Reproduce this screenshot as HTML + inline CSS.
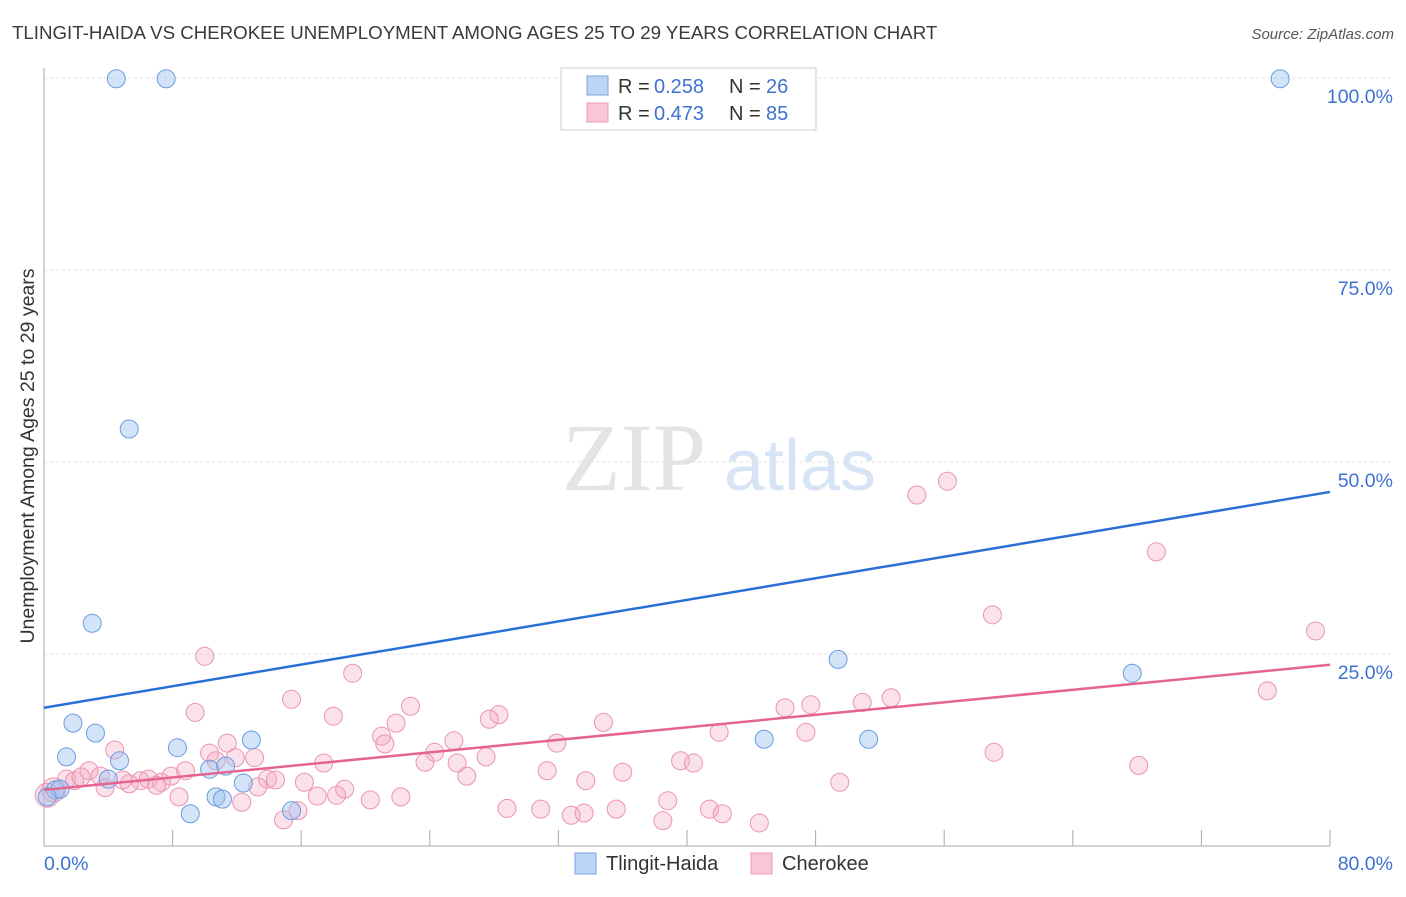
<!DOCTYPE html>
<html><head><meta charset="utf-8"><style>
body{margin:0;background:#fff;font-family:"Liberation Sans",sans-serif}
</style></head><body>
<svg id="c" width="1406" height="892" viewBox="0 0 1406 892" xmlns="http://www.w3.org/2000/svg">
<text x="12" y="39" font-size="18.7" fill="#3a3a3a">TLINGIT-HAIDA VS CHEROKEE UNEMPLOYMENT AMONG AGES 25 TO 29 YEARS CORRELATION CHART</text>
<text x="1394" y="39" font-size="15" fill="#555" font-style="italic" text-anchor="end">Source: ZipAtlas.com</text>
<text x="634" y="490" font-size="96" fill="#e4e4e4" font-family="Liberation Serif, serif" text-anchor="middle">ZIP</text>
<text x="800" y="490" font-size="72" fill="#d6e4f5" text-anchor="middle">atlas</text>
<g id="grid"></g><g id="pts"></g><g id="trend"></g>
<text transform="translate(34,456) rotate(-90)" font-size="19.5" fill="#333" text-anchor="middle">Unemployment Among Ages 25 to 29 years</text>
<text x="44" y="870" font-size="19.5" fill="#3d72d0">0.0%</text>
<text x="1393" y="870" font-size="19.5" fill="#3d72d0" text-anchor="end">80.0%</text>
<g>
<rect x="561" y="68" width="255" height="62" fill="#fff" stroke="#ccc"/>
<rect x="587" y="76" width="21" height="19" fill="#bcd4f5" stroke="#7aa6e4"/>
<rect x="587" y="103" width="21" height="19" fill="#f8c6d6" stroke="#ec9ab4"/>
<text x="618" y="93" font-size="20" fill="#333">R =</text>
<text x="654" y="93" font-size="20" fill="#3d72d0">0.258</text>
<text x="729" y="93" font-size="20" fill="#333">N =</text>
<text x="766" y="93" font-size="20" fill="#3d72d0">26</text>
<text x="618" y="120" font-size="20" fill="#333">R =</text>
<text x="654" y="120" font-size="20" fill="#3d72d0">0.473</text>
<text x="729" y="120" font-size="20" fill="#333">N =</text>
<text x="766" y="120" font-size="20" fill="#3d72d0">85</text>
</g>
<g>
<rect x="575" y="853" width="21" height="21" fill="#bcd4f5" stroke="#7aa6e4"/>
<text x="606" y="870" font-size="20" fill="#333">Tlingit-Haida</text>
<rect x="751" y="853" width="21" height="21" fill="#f8c6d6" stroke="#ec9ab4"/>
<text x="782" y="870" font-size="20" fill="#333">Cherokee</text>
</g>
</svg>
<script>
const yTicks=[25,50,75,100];
const yTickLabels=["25.0%","50.0%","75.0%","100.0%"];
const xTicks=[8,16,24,32,40,48,56,64,72,80];
const blueX=[4.5,7.6,76.9,5.3,3.0,49.4,67.7,1.8,3.2,1.4,8.3,12.9,44.8,51.3,4.7,10.3,11.3,4.0,12.4,0.7,1.0,0.2,10.7,11.1,9.1,15.4];
const blueY=[99.9,99.9,99.9,54.3,29.0,24.3,22.5,16.0,14.7,11.6,12.8,13.8,13.9,13.9,11.1,10.0,10.4,8.7,8.2,7.3,7.4,6.4,6.4,6.1,4.2,4.6];
const pinkX=[54.3,56.2,69.2,59.0,79.1,10.0,19.2,76.1,15.4,52.7,50.9,47.7,46.1,9.4,22.8,18.0,28.3,27.7,21.9,34.8,21.0,25.5,42.0,47.4,31.9,21.2,11.4,4.4,10.3,24.3,59.1,11.9,13.1,10.7,17.4,27.5,25.7,23.7,39.6,40.4,68.1,31.3,36.0,26.3,8.8,7.9,2.8,3.5,1.4,1.9,2.3,6.0,6.5,7.3,5.3,4.9,13.9,14.4,16.2,33.7,49.5,3.8,7.0,13.3,18.7,0.6,8.4,17.0,18.2,20.3,22.2,12.3,38.8,28.8,30.9,35.6,41.4,15.8,32.8,33.6,42.2,14.9,38.5,44.5,0.2];
const pinkY=[45.7,47.5,38.3,30.1,28.0,24.7,22.5,20.2,19.1,19.3,18.7,18.4,18.0,17.4,18.2,16.9,17.1,16.5,16.0,16.1,14.3,13.7,14.8,14.8,13.4,13.3,13.4,12.5,12.1,12.2,12.2,11.5,11.5,11.1,10.8,11.6,10.8,10.9,11.1,10.8,10.5,9.8,9.6,9.1,9.8,9.1,9.8,9.1,8.7,8.5,9.0,8.5,8.7,8.3,8.1,8.6,8.7,8.6,8.3,8.5,8.3,7.6,7.9,7.7,7.4,7.3,6.4,6.5,6.6,6.0,6.4,5.7,5.9,4.9,4.8,4.8,4.8,4.6,4.0,4.3,4.2,3.4,3.3,3.0,6.6];
const blueTrend=[18.0,46.1];
const pinkTrend=[7.3,23.6];
const NS="http://www.w3.org/2000/svg";
const X=v=>44+v/80*1286, Y=v=>846-v/100*768;
function mk(t,a,p){const e=document.createElementNS(NS,t);for(const k in a)e.setAttribute(k,a[k]);p.appendChild(e);return e;}
const g=document.getElementById('grid');
yTicks.forEach((t,i)=>{
 const l=mk('line',{x1:44,x2:1394,y1:Y(t),y2:Y(t),stroke:'#e2e2e2','stroke-dasharray':'3,3'},g);
 
 
 const tx=mk('text',{x:1393,y:Y(t)+25,'font-size':19.5,fill:'#3d72d0','text-anchor':'end'},g);
 tx.textContent=yTickLabels[i];
 
 
});
const ax=mk('line',{x1:44,x2:44,y1:68,y2:846,stroke:'#aaa'},g);


const bx=mk('line',{x1:44,x2:1330,y1:846,y2:846,stroke:'#aaa'},g);


xTicks.forEach(t=>{
 const l=mk('line',{x1:X(t),x2:X(t),y1:830,y2:846,stroke:'#aaa'},g);
 
 
});
const p=document.getElementById('pts');
pinkX.forEach((v,i)=>{
 const c=mk('circle',{cx:X(v),cy:Y(pinkY[i]),r:(i==pinkX.length-1||i==65)?12:9,fill:'rgba(244,170,196,0.35)',stroke:'#eb94b2','stroke-width':1},p);
 
 
});
blueX.forEach((v,i)=>{
 const c=mk('circle',{cx:X(v),cy:Y(blueY[i]),r:9,fill:'rgba(160,195,240,0.45)',stroke:'#6a9ce0','stroke-width':1},p);
 
 
});
const tr=document.getElementById('trend');
const b=mk('line',{x1:X(0),y1:Y(blueTrend[0]),x2:X(80),y2:Y(blueTrend[1]),stroke:'#2a6fd6','stroke-width':2.5},tr);


const k=mk('line',{x1:X(0),y1:Y(pinkTrend[0]),x2:X(80),y2:Y(pinkTrend[1]),stroke:'#e5648f','stroke-width':2.5},tr);


</script>
</body></html>
